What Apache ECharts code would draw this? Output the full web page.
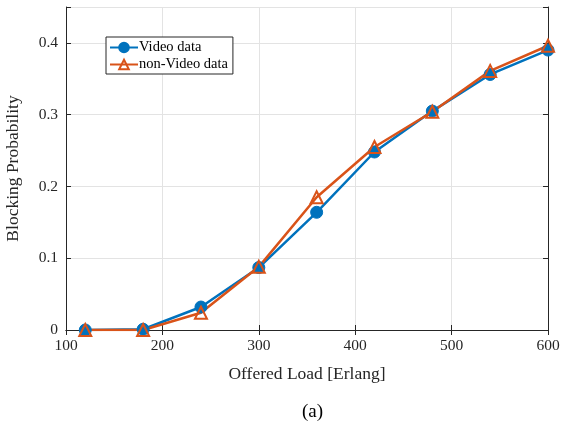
<!DOCTYPE html>
<html><head><meta charset="utf-8">
<script src="https://cdn.jsdelivr.net/npm/echarts@6/dist/echarts.min.js"></script>
<style>html,body{margin:0;padding:0;background:#fff;}#c{width:561px;height:423px;}</style>
</head><body><div id="c"></div>
<script>
const loads = [120, 180, 240, 300, 360, 420, 480, 540, 600];
const videoData = [0, 0.001, 0.032, 0.087, 0.164, 0.248, 0.305, 0.356, 0.390];
const nonVideoData = [0, 0, 0.024, 0.088, 0.185, 0.255, 0.304, 0.361, 0.396];
const F = '"Liberation Serif", "DejaVu Serif", serif';
const chart = echarts.init(document.getElementById('c'));
const axisCommon = {
  axisLine: {show: true, lineStyle: {color: '#262626', width: 1}},
  axisTick: {show: true, inside: true, length: 5, lineStyle: {color: '#262626'}},
};
chart.setOption({
  animation: false,
  backgroundColor: '#fff',
  grid: {left: 66, right: 13, top: 7, bottom: 93, containLabel: false, outerBoundsMode: 'none'},
  title: {text: '(a)', left: 297, top: 398, textStyle: {fontFamily: F, fontSize: 19, fontWeight: 'normal', color: '#000'}},
  legend: {
    left: 106, top: 37, orient: 'vertical', itemGap: 2, padding: [3, 5, 2, 3],
    borderColor: '#262626', borderWidth: 1, backgroundColor: '#fff',
    itemWidth: 28, itemHeight: 12,
    textStyle: {fontFamily: F, fontSize: 14.5, color: '#000', padding: [0, 0, 0, -4]},
    data: ['Video data', 'non-Video data']
  },
  xAxis: [{
    type: 'value', min: 100, max: 600, interval: 100, position: 'bottom',
    ...axisCommon,
    axisLabel: {fontFamily: F, fontSize: 15.5, color: '#262626', margin: 8},
    splitLine: {show: true, lineStyle: {color: '#e3e3e3'}},
    name: 'Offered Load [Erlang]', nameLocation: 'middle', nameGap: 35,
    nameTextStyle: {fontFamily: F, fontSize: 17.5, color: '#262626'}
  }, {
    type: 'value', min: 100, max: 600, interval: 100, position: 'top',
    ...axisCommon, axisLabel: {show: false}, splitLine: {show: false}
  }],
  yAxis: [{
    type: 'value', min: 0, max: 0.45, interval: 0.1, position: 'left',
    ...axisCommon,
    axisLabel: {fontFamily: F, fontSize: 15.5, color: '#262626', margin: 8,
      formatter: v => v > 0.41 ? '' : String(Math.round(v*10)/10)},
    splitLine: {show: true, lineStyle: {color: '#e3e3e3'}},
    name: 'Blocking Probability', nameLocation: 'middle', nameGap: 44,
    nameTextStyle: {fontFamily: F, fontSize: 17.5, color: '#262626'}
  }, {
    type: 'value', min: 0, max: 0.45, interval: 0.1, position: 'right',
    ...axisCommon, axisLabel: {show: false}, splitLine: {show: false}
  }],
  series: [{
    name: 'Video data', type: 'line', xAxisIndex: 0, yAxisIndex: 0,
    data: loads.map((x, i) => [x, videoData[i]]),
    color: '#0072BD', lineStyle: {width: 2.5, color: '#0072BD'},
    symbol: 'circle', symbolSize: 12,
    itemStyle: {color: '#0072BD', borderColor: '#0072BD', borderWidth: 1}
  }, {
    name: 'non-Video data', type: 'line', xAxisIndex: 0, yAxisIndex: 0,
    data: loads.map((x, i) => [x, nonVideoData[i]]),
    color: '#D95319', lineStyle: {width: 2.5, color: '#D95319'},
    symbol: 'triangle', symbolSize: 12,
    itemStyle: {color: 'rgba(255,255,255,0)', borderColor: '#D95319', borderWidth: 2}
  }]
});
</script></body></html>
